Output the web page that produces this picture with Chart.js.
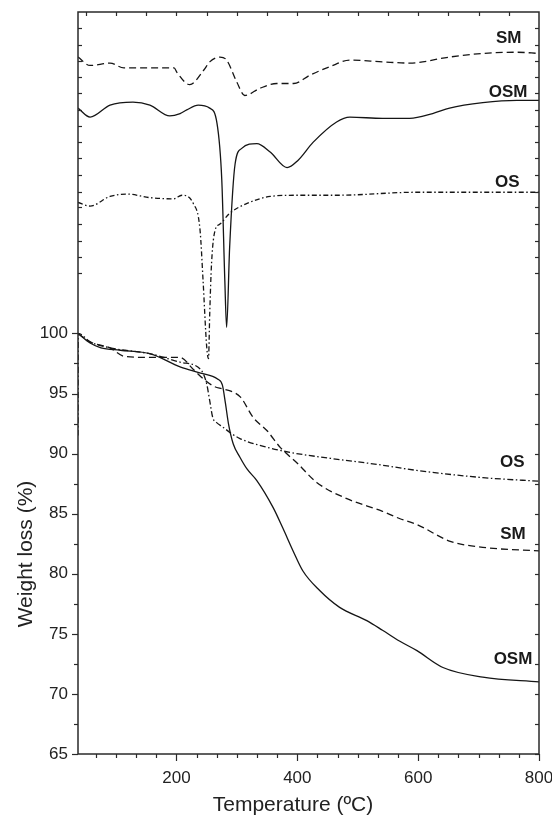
<!DOCTYPE html>
<html>
<head>
<meta charset="utf-8">
<script src="https://cdn.jsdelivr.net/npm/chart.js@4.4.1/dist/chart.umd.min.js"></script>
<style>
  html, body { margin: 0; padding: 0; background: #fff; }
  #wrap { width: 552px; height: 816px; }
</style>
</head>
<body>
<div id="wrap"><canvas id="tgChart" width="552" height="816"></canvas></div>
<script>
// TG curves (weight %, lower part)
const tgOsmTemp = [37, 57, 75, 107, 157, 207, 240, 268, 276, 281, 286, 294, 305, 317, 333, 360, 376, 393, 409, 437, 470, 515, 541, 569, 598, 641, 707, 800];
const tgOsmWeight = [100, 99.2, 98.8, 98.6, 98.3, 97.2, 96.7, 96.2, 95.7, 94.2, 92.5, 90.8, 89.7, 88.7, 87.75, 85.5, 83.8, 81.9, 80.25, 78.6, 77.2, 76.1, 75.3, 74.4, 73.6, 72.2, 71.4, 71.0];

const tgSmTemp = [37, 57, 90, 113, 157, 206, 228, 245, 262, 275, 290, 306, 327, 350, 372, 400, 432, 482, 541, 569, 598, 653, 707, 800];
const tgSmWeight = [100, 99.3, 98.8, 98.1, 98.0, 98.0, 97.0, 96.2, 95.6, 95.4, 95.2, 94.7, 93.0, 91.9, 90.5, 89.2, 87.6, 86.25, 85.2, 84.6, 84.1, 82.7, 82.2, 81.9];

const tgOsTemp = [37, 37.5, 57, 90, 157, 207, 240, 250, 255, 260, 266, 277, 290, 305, 344, 388, 455, 532, 598, 707, 800];
const tgOsWeight = [91.5, 100, 99.3, 98.8, 98.3, 97.6, 97.0, 95.8, 94.4, 93.0, 92.6, 92.2, 91.7, 91.25, 90.6, 90.1, 89.6, 89.1, 88.6, 88.0, 87.7];

// DTG curves (offset signal drawn above the TG curves, same vertical units)
const dtgSmTemp = [37, 57, 90, 113, 196, 201, 222, 245, 255, 272, 283, 300, 313, 338, 366, 394, 421, 454, 487, 541, 586, 652, 707, 763, 800];
const dtgSmSignal = [123.0, 122.3, 122.5, 122.1, 122.1, 121.7, 120.7, 121.9, 122.6, 123.0, 122.75, 120.9, 119.8, 120.4, 120.8, 120.8, 121.5, 122.2, 122.75, 122.6, 122.5, 123.0, 123.3, 123.4, 123.3];

const dtgOsmTemp = [37, 57, 90, 128, 156, 189, 206, 217, 236, 255, 267, 275, 280, 283, 288, 297, 308, 333, 355, 383, 401, 426, 465, 487, 541, 586, 624, 652, 707, 763, 800];
const dtgOsmSignal = [118.75, 118.0, 119.0, 119.25, 119.0, 118.1, 118.3, 118.6, 119.0, 118.75, 117.5, 112.75, 104.4, 100.5, 107.2, 114.1, 115.4, 115.8, 115.1, 113.8, 114.4, 115.9, 117.6, 118.0, 117.9, 117.9, 118.3, 118.75, 119.2, 119.4, 119.4];

const dtgOsTemp = [37, 57, 90, 118, 156, 195, 209, 228, 239, 244, 250, 253, 255, 258, 264, 272, 288, 316, 355, 399, 465, 598, 707, 800];
const dtgOsSignal = [110.9, 110.6, 111.4, 111.6, 111.3, 111.2, 111.5, 110.8, 108.6, 104.4, 98.9, 97.9, 101.6, 105.8, 108.6, 109.1, 110.0, 110.8, 111.4, 111.5, 111.5, 111.75, 111.75, 111.75];

// axes
const xLabelTicks = [200, 400, 600, 800];
const yLabelTicks = [65, 70, 75, 80, 85, 90, 95, 100];
const yMinorTicks = [67.5, 72.5, 77.5, 82.5, 87.5, 92.5, 97.5];
const dtgFrameTicks = [125.4, 124.0, 122.7, 121.3, 120.0, 118.6, 117.3, 115.9, 114.6, 113.2, 111.8, 110.5, 109.1, 107.7, 106.4, 105.0];
const topTicks = [50, 100, 150, 200, 250, 300, 350, 400, 450, 500, 550, 600, 650, 700, 750];

// curve labels: [text, temperature at right edge, value at baseline]
const curveLabels = [
  ["SM", 771, 124.2],
  ["OSM", 781, 119.7],
  ["OS", 768, 112.2],
  ["OS", 776, 88.85],
  ["SM", 778, 82.9],
  ["OSM", 789, 72.5]
];

const FONT = "'Liberation Sans', Arial, Helvetica, sans-serif";
const INK = "#151515";
const AXIS_COLOR = "#2a2a2a";

function points(temps, values) {
  return temps.map((t, i) => ({ x: t, y: values[i] }));
}

function curve(label, temps, values, dash) {
  return {
    label,
    data: points(temps, values),
    borderColor: INK,
    borderWidth: 1.3,
    borderDash: dash,
    pointRadius: 0,
    fill: false,
    cubicInterpolationMode: "monotone"
  };
}

const frameAndTicks = {
  id: "frameAndTicks",
  afterDatasetsDraw(chart) {
    const { ctx, chartArea: area, scales } = chart;
    const xs = scales.x;
    const ys = scales.y;
    const line = (x1, y1, x2, y2) => {
      ctx.beginPath();
      ctx.moveTo(x1, y1);
      ctx.lineTo(x2, y2);
      ctx.stroke();
    };

    ctx.save();
    ctx.strokeStyle = AXIS_COLOR;
    ctx.lineWidth = 1.5;
    ctx.strokeRect(area.left, area.top, area.right - area.left, area.bottom - area.top);

    ctx.lineWidth = 1.2;
    // bottom axis: major and minor ticks, pointing out
    xLabelTicks.forEach((v) => {
      const px = Math.round(xs.getPixelForValue(v)) + 0.5;
      line(px, area.bottom, px, area.bottom + 7);
    });
    for (let t = 200 / 3; t < 800; t += 200 / 6) {
      if (Math.abs(t / 200 - Math.round(t / 200)) < 1e-6) continue;
      const px = Math.round(xs.getPixelForValue(t)) + 0.5;
      line(px, area.bottom, px, area.bottom + 4);
    }
    // top axis: small inward ticks
    topTicks.forEach((v) => {
      const px = Math.round(xs.getPixelForValue(v)) + 0.5;
      line(px, area.top, px, area.top + 4);
    });
    // left axis
    yLabelTicks.forEach((v) => {
      const py = Math.round(ys.getPixelForValue(v)) + 0.5;
      line(area.left - 6, py, area.left, py);
    });
    yMinorTicks.forEach((v) => {
      const py = Math.round(ys.getPixelForValue(v)) + 0.5;
      line(area.left - 4, py, area.left, py);
    });
    dtgFrameTicks.forEach((v) => {
      const py = Math.round(ys.getPixelForValue(v)) + 0.5;
      line(area.left, py, area.left + 4, py);
      line(area.right - 4, py, area.right, py);
    });
    // right axis lower part
    yLabelTicks.concat(yMinorTicks).forEach((v) => {
      const py = Math.round(ys.getPixelForValue(v)) + 0.5;
      line(area.right - 4, py, area.right, py);
    });

    // curve labels
    ctx.fillStyle = "#1a1a1a";
    ctx.font = `bold 17px ${FONT}`;
    ctx.textAlign = "right";
    ctx.textBaseline = "alphabetic";
    curveLabels.forEach(([text, t, v]) => {
      ctx.fillText(text, xs.getPixelForValue(t), ys.getPixelForValue(v));
    });

    // axis titles
    ctx.fillStyle = "#222";
    ctx.font = `21px ${FONT}`;
    ctx.textAlign = "center";
    ctx.fillText("Temperature (ºC)", area.left + 215, 811);
    ctx.translate(32, 554);
    ctx.rotate(-Math.PI / 2);
    ctx.fillText("Weight loss (%)", 0, 0);
    ctx.restore();
  }
};

new Chart(document.getElementById("tgChart"), {
  type: "line",
  data: {
    datasets: [
      curve("SM DTG", dtgSmTemp, dtgSmSignal, [7, 4]),
      curve("OSM DTG", dtgOsmTemp, dtgOsmSignal, []),
      curve("OS DTG", dtgOsTemp, dtgOsSignal, [5, 2.5, 1.5, 2.5]),
      curve("OSM", tgOsmTemp, tgOsmWeight, []),
      curve("SM", tgSmTemp, tgSmWeight, [7, 4]),
      curve("OS", tgOsTemp, tgOsWeight, [6, 2.5, 1.5, 2.5])
    ]
  },
  options: {
    responsive: false,
    animation: false,
    devicePixelRatio: 1,
    layout: { padding: { top: 12, right: 13, left: 0, bottom: 0 } },
    plugins: {
      legend: { display: false },
      tooltip: { enabled: false }
    },
    scales: {
      x: {
        type: "linear",
        min: 37,
        max: 800,
        grid: { display: false, drawTicks: false },
        border: { display: false },
        afterBuildTicks: (scale) => {
          scale.ticks = xLabelTicks.map((v) => ({ value: v }));
        },
        afterFit: (scale) => {
          scale.height = 62;
          scale.paddingLeft = 0;
          scale.paddingRight = 0;
        },
        ticks: {
          padding: 14,
          color: "#222",
          maxRotation: 0,
          font: { family: FONT, size: 17 }
        }
      },
      y: {
        type: "linear",
        min: 65,
        max: 126.75,
        grid: { display: false, drawTicks: false },
        border: { display: false },
        afterBuildTicks: (scale) => {
          scale.ticks = yLabelTicks.map((v) => ({ value: v }));
        },
        afterFit: (scale) => {
          scale.width = 78;
          scale.paddingTop = 0;
          scale.paddingBottom = 0;
        },
        ticks: {
          padding: 10,
          color: "#222",
          font: { family: FONT, size: 17 }
        }
      }
    }
  },
  plugins: [frameAndTicks]
});
</script>
</body>
</html>
